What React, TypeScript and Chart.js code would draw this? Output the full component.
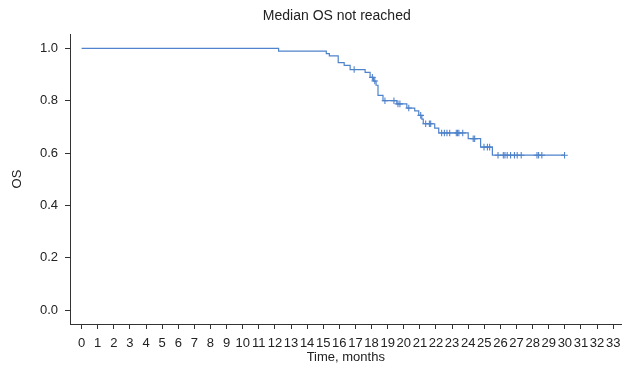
import React, { useEffect, useRef } from "react";
import { Chart, registerables } from "chart.js";

Chart.register(...registerables);

const stepTimes = [0, 12.23, 15.19, 15.38, 15.93, 16.3, 16.67, 17.6, 17.91, 18.12, 18.28, 18.4, 18.71, 19.57, 20.19, 20.68, 20.93, 21.12, 21.21, 21.92, 22.17, 24.0, 24.77, 25.5, 29.98];
const stepSurv = [1.0, 0.989, 0.98, 0.971, 0.945, 0.935, 0.919, 0.908, 0.889, 0.875, 0.859, 0.82, 0.8, 0.788, 0.772, 0.761, 0.744, 0.73, 0.712, 0.695, 0.677, 0.655, 0.623, 0.592, 0.592];

const censorTimes = [16.92, 18.05, 18.2, 18.83, 19.39, 19.64, 19.76, 20.31, 21.05, 21.36, 21.59, 21.67, 22.35, 22.52, 22.68, 22.85, 23.26, 23.34, 23.42, 23.66, 24.31, 24.4, 24.98, 25.19, 25.33, 25.85, 26.18, 26.28, 26.42, 26.63, 26.87, 27.04, 27.29, 28.27, 28.37, 28.57, 29.98];
const censorSurv = [0.919, 0.889, 0.875, 0.8, 0.8, 0.788, 0.788, 0.772, 0.744, 0.712, 0.712, 0.712, 0.677, 0.677, 0.677, 0.677, 0.677, 0.677, 0.677, 0.677, 0.655, 0.655, 0.623, 0.623, 0.623, 0.592, 0.592, 0.592, 0.592, 0.592, 0.592, 0.592, 0.592, 0.592, 0.592, 0.592, 0.592];

const xTicks = Array.from({ length: 34 }, (_, i) => i);
const yTicks = [0, 0.2, 0.4, 0.6, 0.8, 1.0];

const titleText = "Median OS not reached";
const xTitle = "Time, months";
const yTitle = "OS";

const FONT = "'Liberation Sans', Arial, Helvetica, sans-serif";
const LINE = "#4f83cc";
const AX = "#333333";

export default function App() {
  const ref = useRef<HTMLCanvasElement | null>(null);
  useEffect(() => {
    document.body.style.margin = "0";
    const canvas = ref.current!;
    const titlePlugin = {
      id: "centeredTitle",
      afterDraw(chart: any) {
        const ctx = chart.ctx;
        const { left, right } = chart.chartArea;
        ctx.save();
        ctx.font = `14px ${FONT}`;
        ctx.fillStyle = "#222";
        ctx.textAlign = "center";
        ctx.textBaseline = "middle";
        ctx.fillText(titleText, (left + right) / 2 - 9, 16.5);
        ctx.restore();
      },
    };
    const chart = new Chart(canvas, {
      type: "line",
      data: {
        datasets: [
          {
            data: stepTimes.map((t, i) => ({ x: t, y: stepSurv[i] })),
            borderColor: LINE,
            borderWidth: 1.2,
            stepped: true,
            pointRadius: 0,
            fill: false,
          },
          {
            data: censorTimes.map((t, i) => ({ x: t, y: censorSurv[i] })),
            showLine: false,
            pointStyle: "cross",
            pointRadius: 3.3,
            pointBorderColor: LINE,
            pointBorderWidth: 1.1,
            borderColor: LINE,
          } as any,
        ],
      },
      options: {
        animation: false,
        responsive: false,
        layout: { padding: { top: 34, right: 2, left: 0, bottom: 0 } },
        plugins: { legend: { display: false }, tooltip: { enabled: false }, title: { display: false } },
        scales: {
          x: {
            type: "linear",
            min: -0.72,
            max: 33.52,
            afterBuildTicks: (s: any) => { s.ticks = xTicks.map((v) => ({ value: v })); },
            afterFit: (s: any) => { s.height = 45; },
            grid: { drawOnChartArea: false, drawTicks: true, tickLength: 5, tickColor: AX },
            border: { display: true, color: AX, width: 1 },
            ticks: { autoSkip: false, maxRotation: 0, padding: 6.5, color: "#222", font: { family: FONT, size: 13 } },
            title: { display: true, text: xTitle, color: "#222", font: { family: FONT, size: 13 }, padding: { top: 0, bottom: 3.7 } },
          },
          y: {
            type: "linear",
            min: -0.0523,
            max: 1.0546,
            afterBuildTicks: (s: any) => { s.ticks = yTicks.map((v) => ({ value: v })); },
            afterFit: (s: any) => { s.width = 70; },
            grid: { drawOnChartArea: false, drawTicks: true, tickLength: 5, tickColor: AX },
            border: { display: true, color: AX, width: 1 },
            ticks: { padding: 7, color: "#222", font: { family: FONT, size: 13 }, callback: (v: any) => Number(v).toFixed(1) },
            title: { display: true, text: yTitle, color: "#222", font: { family: FONT, size: 13 }, padding: { top: 10, bottom: 0 } },
          },
        },
      },
      plugins: [titlePlugin],
    });
    return () => chart.destroy();
  }, []);
  return (
    <div style={{ width: 627, height: 369 }}>
      <canvas ref={ref} width={627} height={369} style={{ display: "block" }} />
    </div>
  );
}
